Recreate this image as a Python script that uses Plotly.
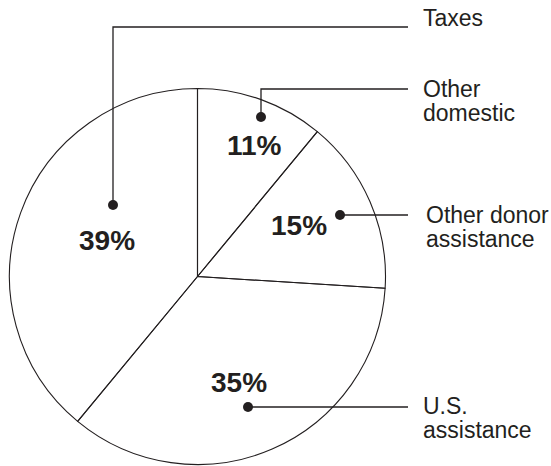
import plotly.graph_objects as go

# ---- data ----
categories = ["Other domestic", "Other donor assistance", "U.S. assistance", "Taxes"]
values = [11, 15, 35, 39]
label_lines = [["Other", "domestic"], ["Other donor", "assistance"], ["U.S.", "assistance"], ["Taxes"]]

# ---- layout (window pixel positions, styles) ----
W, H = 551, 466
CX, CY, R = 197.5, 276.5, 188
pct_pos = [(254.5, 145), (298.5, 225.5), (239, 382), (106.5, 240)]
dot_pos = [(261, 117), (340, 215), (248, 407), (113, 205)]
leader_y = [89, 215, 407, 27]
leader_end_x = 408
label_x = [421, 424, 421, 421]
label_y0 = [89, 215, 405.5, 18]
line_gap = 24
INK = "#231f20"
FONT = "Liberation Sans, Arial, Helvetica, sans-serif"

fig = go.Figure()

# pie (transparent fills so the leader lines show through)
fig.add_trace(go.Pie(
    labels=categories, values=values, sort=False, direction="clockwise", rotation=0,
    textinfo="none", hoverinfo="skip", showlegend=False,
    marker=dict(colors=["rgba(255,255,255,0)"] * len(values), line=dict(color=INK, width=1.1)),
    domain=dict(x=[(CX - R) / W, (CX + R) / W], y=[(H - CY - R) / H, (H - CY + R) / H]),
))

# leader lines and dots
for (dx, dy), ly in zip(dot_pos, leader_y):
    if abs(dy - ly) > 0.5:
        xs, ys = [dx, dx, leader_end_x], [dy, ly, ly]
    else:
        xs, ys = [dx, leader_end_x], [dy, dy]
    fig.add_trace(go.Scatter(x=xs, y=ys, mode="lines", line=dict(color=INK, width=1.3),
                             hoverinfo="skip", showlegend=False))
fig.add_trace(go.Scatter(x=[p[0] for p in dot_pos], y=[p[1] for p in dot_pos], mode="markers",
                         marker=dict(color=INK, size=10), hoverinfo="skip", showlegend=False))

annotations = []
for v, (px, py) in zip(values, pct_pos):
    annotations.append(dict(x=px, y=py, xref="x", yref="y", text=f"<b>{v}%</b>", showarrow=False,
                            xanchor="center", yanchor="middle",
                            font=dict(family=FONT, size=28, color=INK)))
for lines, lx, ly0 in zip(label_lines, label_x, label_y0):
    for i, t in enumerate(lines):
        annotations.append(dict(x=lx, y=ly0 + i * line_gap, xref="x", yref="y", text=t, showarrow=False,
                                xanchor="left", yanchor="middle",
                                font=dict(family=FONT, size=23, color=INK)))

fig.update_layout(
    width=W, height=H, margin=dict(l=0, r=0, t=0, b=0),
    paper_bgcolor="white", plot_bgcolor="rgba(0,0,0,0)",
    xaxis=dict(range=[0, W], visible=False, fixedrange=True),
    yaxis=dict(range=[H, 0], visible=False, fixedrange=True),
    annotations=annotations,
)

fig.write_html("out.html", config={"displayModeBar": False, "staticPlot": True},
               post_script="document.body.style.margin='0px'; document.body.style.overflow='hidden';")
